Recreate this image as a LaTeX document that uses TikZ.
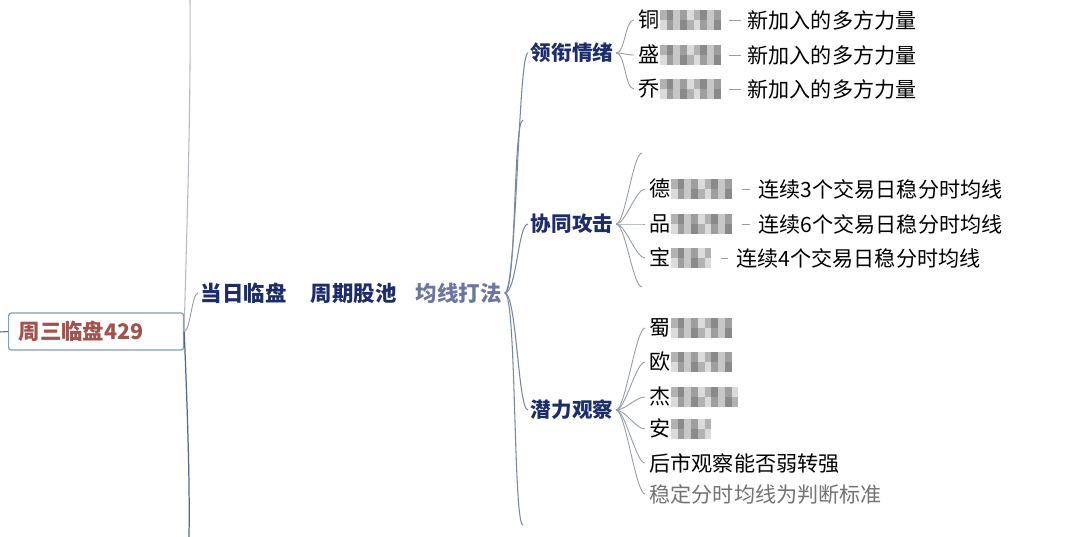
\documentclass[tikz,border=0pt]{standalone}
\usepackage{fontspec}
\setmainfont{Noto Sans CJK SC}
\usepackage{xcolor}
\definecolor{RootText}{RGB}{160,82,75}
\definecolor{RootEdge}{RGB}{130,160,178}
\definecolor{Navy}{RGB}{28,45,105}
\definecolor{Branch}{RGB}{120,135,160}
\definecolor{Twig}{RGB}{150,156,166}
\definecolor{Trunk}{RGB}{80,105,135}
% pixelated cells standing in for the blurred names
\newcommand{\mosaic}[1]{%
  \pgfmathtruncatemacro{\ncell}{round(#1/0.32)}%
  \foreach \k in {1,...,\ncell}{%
    \pgfmathtruncatemacro{\sa}{14+mod(\k*37,5)*8}%
    \pgfmathtruncatemacro{\sb}{14+mod(\k*23+2,5)*8}%
    \textcolor{black!\sa}{\rule[0.375em]{0.32em}{0.475em}}%
    \llap{\textcolor{black!\sb}{\rule[-0.1em]{0.32em}{0.475em}}}}}

\begin{document}
\begin{tikzpicture}[x=0.02cm,y=-0.02cm,
  topic/.style={anchor=west,inner sep=1.5,text=Navy,font=\fontsize{12.2}{14}\selectfont\bfseries},
  head/.style={anchor=west,inner sep=1.5,text=Navy,font=\fontsize{11.7}{14}\selectfont\bfseries},
  stock/.style={anchor=west,inner xsep=2.5,inner ysep=1,font=\fontsize{12}{14}\selectfont},
  note/.style={anchor=west,inner xsep=2.5,inner ysep=1,font=\fontsize{12}{14}\selectfont},
  twig/.style={draw=Twig,line width=0.5pt},
  branch/.style={draw=Branch,line width=0.6pt}]
\fill[white] (0,0) rectangle (1080,537);
\useasboundingbox (0,0) rectangle (1080,537);

% root and the long trunk line
\node[draw=RootEdge,line width=0.7pt,rounded corners=1.5pt,fill=white,anchor=west,
  text width=3.1cm,inner xsep=0.2cm,minimum height=0.74cm,align=left,
  text=RootText,font=\fontsize{12.2}{14}\selectfont\bfseries] (root) at (8,331.5) {周三临盘429};
\coordinate (trunktop) at (190,0);
\coordinate (trunkbot) at (189,537);
\coordinate (leftend) at (0,332);
\draw[draw=Twig!70,line width=0.6pt] (trunktop) .. controls (191,120) and (186,250) .. (root.east);
\draw[draw=Trunk,line width=0.7pt] (root.east) .. controls (187,400) and (190,480) .. (trunkbot);
\draw[draw=Trunk,line width=0.6pt] (leftend) -- (root.west);

% top row
\node[topic] (today) at (198,293) {当日临盘};
\node[topic] (pool) at (308,293) {周期股池};
\node[topic,text=Navy!65] (avg) at (413,293) {均线打法};
\draw[twig] (root.east) .. controls +(6,0) and +(-6,0) .. (today.west);

% second level
\node[head] (lead) at (528,53) {领衔情绪};
\node[head] (coop) at (528,224) {协同攻击};
\node[head] (watch) at (528,410) {潜力观察};
\coordinate (gap1) at (523,120);
\coordinate (gap2) at (523,525);
\foreach \t in {lead,gap1,coop,watch,gap2}
  \draw[branch] (avg.east) .. controls +(12,0) and +(-10,0) .. (\t.west);

% leading stocks
\node[stock] (lead1) at (634,20) {铜\mosaic{2.9}};
\node[stock] (lead2) at (634,55) {盛\mosaic{2.9}};
\node[stock] (lead3) at (634,89) {乔\mosaic{2.9}};
\node[note] (lead1t) at (743,20) {新加入的多方力量};
\node[note] (lead2t) at (743,55) {新加入的多方力量};
\node[note] (lead3t) at (743,89) {新加入的多方力量};
\foreach \i in {1,2,3} {
  \draw[twig] (lead.east) .. controls +(9,0) and +(-9,0) .. (lead\i.west);
  \draw[twig,shorten <=2pt,shorten >=1pt] (lead\i.east) -- (lead\i t.west);
}

% joint attack
\node[stock] (coop1) at (645,189) {德\mosaic{2.9}};
\node[stock] (coop2) at (645,224) {品\mosaic{2.9}};
\node[stock] (coop3) at (645,258) {宝\mosaic{1.95}};
\node[note] (coop1t) at (754,189) {连续3个交易日稳分时均线};
\node[note] (coop2t) at (754,224) {连续6个交易日稳分时均线};
\node[note] (coop3t) at (732,258) {连续4个交易日稳分时均线};
\coordinate (coop0) at (642,153);
\coordinate (coop4) at (642,287);
\foreach \t in {coop0,coop1,coop2,coop3,coop4}
  \draw[twig] (coop.east) .. controls +(9,0) and +(-9,0) .. (\t.west);
\foreach \i in {1,2,3}
  \draw[twig,shorten <=3pt,shorten >=2pt] (coop\i.east) -- (coop\i t.west);

% potential watch list
\node[stock] (watch1) at (645,328) {蜀\mosaic{2.85}};
\node[stock] (watch2) at (645,362) {欧\mosaic{2.85}};
\node[stock] (watch3) at (645,397) {杰\mosaic{3.05}};
\node[stock] (watch4) at (645,429) {安\mosaic{2.0}};
\node[note] (watch5) at (645,463) {后市观察能否弱转强};
\node[note,text=black!55] (watch6) at (645,494) {稳定分时均线为判断标准};
\foreach \i in {1,...,6}
  \draw[twig] (watch.east) .. controls +(9,0) and +(-9,0) .. (watch\i.west);
\end{tikzpicture}
\end{document}
